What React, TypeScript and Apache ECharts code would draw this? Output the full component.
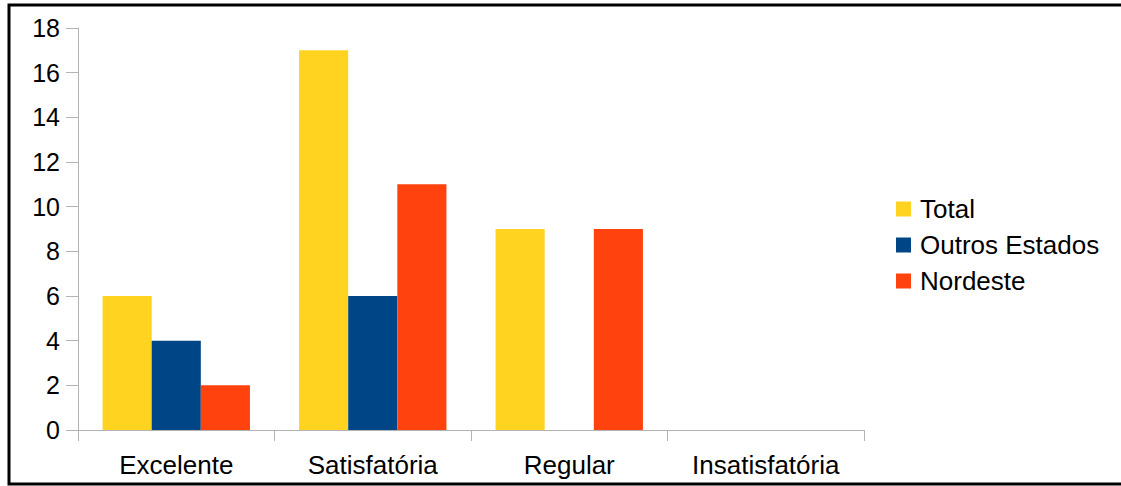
import React, { useEffect, useRef } from "react";
import * as echarts from "echarts";

const categories = ["Excelente", "Satisfatória", "Regular", "Insatisfatória"];
const totalValues = [6, 17, 9, 0];
const outrosValues = [4, 6, 0, 0];
const nordesteValues = [2, 11, 9, 0];
const seriesNames = ["Total", "Outros Estados", "Nordeste"];
const colors = ["#ffd320", "#004586", "#ff420e"];

export default function App() {
  const ref = useRef<HTMLDivElement>(null);
  useEffect(() => {
    if (!ref.current) return;
    const chart = echarts.init(ref.current, null, { renderer: "svg" });
    const font = "'Liberation Sans', Arial, sans-serif";
    const data = [totalValues, outrosValues, nordesteValues];
    chart.setOption({
      animation: false,
      backgroundColor: "#ffffff",
      textStyle: { fontFamily: font },
      grid: { left: 78, right: 257, top: 28, bottom: 56, containLabel: false },
      legend: {
        orient: "vertical",
        left: 896,
        top: 196,
        padding: 0,
        itemWidth: 15,
        itemHeight: 15,
        itemGap: 10,
        icon: "rect",
        selectedMode: false,
        textStyle: { fontSize: 26, color: "#000", fontFamily: font, padding: [0, 0, 0, 4] },
        data: seriesNames,
      },
      xAxis: {
        type: "category",
        data: categories,
        axisLine: { lineStyle: { color: "#b3b3b3", width: 1 } },
        axisTick: { show: true, length: 11, lineStyle: { color: "#b3b3b3" } },
        axisLabel: { fontSize: 26, color: "#000", margin: 22, fontFamily: font },
      },
      yAxis: {
        type: "value",
        min: 0,
        max: 18,
        interval: 2,
        axisLine: { show: true, lineStyle: { color: "#b3b3b3", width: 1 } },
        axisTick: { show: true, length: 12, lineStyle: { color: "#b3b3b3" } },
        splitLine: { show: false },
        axisLabel: { fontSize: 25, color: "#000", margin: 18, fontFamily: font },
      },
      series: seriesNames.map((name, i) => ({
        name,
        type: "bar",
        data: data[i],
        barGap: "0%",
        barCategoryGap: "25%",
        itemStyle: { color: colors[i] },
      })),
      graphic: [
        {
          type: "rect",
          shape: { x: 9, y: 5, width: 1130, height: 479 },
          style: { fill: "none", stroke: "#000", lineWidth: 3 },
          z: 100,
        },
      ],
    });
    return () => chart.dispose();
  }, []);
  return (
    <div
      ref={ref}
      style={{ position: "fixed", left: 0, top: 0, width: 1121, height: 486 }}
    />
  );
}
